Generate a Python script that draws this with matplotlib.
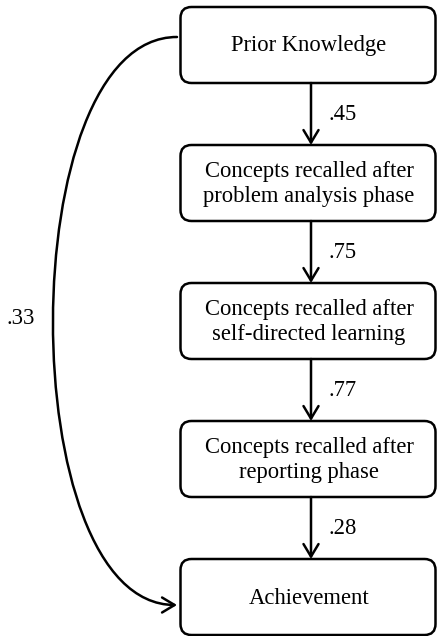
import matplotlib
matplotlib.use("Agg")
import matplotlib.pyplot as plt
from matplotlib.patches import FancyBboxPatch, FancyArrowPatch
from matplotlib.path import Path

# ---- data ----
node_labels = [
    "Prior Knowledge",
    "Concepts recalled after\nproblem analysis phase",
    "Concepts recalled after\nself-directed learning",
    "Concepts recalled after\nreporting phase",
    "Achievement",
]
path_coefs = [".45", ".75", ".77", ".28"]
direct_coef = ".33"

# ---- layout (pixels) ----
W, H = 437, 636
box_left, box_right = 180.5, 435.5
box_tops = [7, 145, 283, 421, 559]
box_h = 76
arrow_x = 311
text_x = 309
lw = 1.8
fam = ["Liberation Serif", "DejaVu Serif"]

fig = plt.figure(figsize=(W / 100, H / 100), dpi=100)
ax = fig.add_axes([0, 0, 1, 1])
ax.set_xlim(0, W)
ax.set_ylim(H, 0)
ax.axis("off")

for top, lab in zip(box_tops, node_labels):
    r = 11
    box = FancyBboxPatch((box_left + r, top + r), box_right - box_left - 2 * r, box_h - 2 * r,
                         boxstyle=f"round,pad={r}", fc="white", ec="black", lw=lw)
    ax.add_patch(box)
    ax.text(text_x, top + box_h / 2 + 1, lab, ha="center", va="center",
            fontsize=16.3, family=fam, linespacing=1.3)

for i, c in enumerate(path_coefs):
    y0 = box_tops[i] + box_h
    y1 = box_tops[i + 1]
    arr = FancyArrowPatch((arrow_x, y0), (arrow_x, y1), arrowstyle="->,head_length=0.45,head_width=0.27",
                          mutation_scale=20, lw=lw, color="black", shrinkA=0, shrinkB=0)
    ax.add_patch(arr)
    ax.text(328, (y0 + y1) / 2, c, ha="left", va="center", fontsize=16.3, family=fam)

# curved direct path
p0 = (177, 37)
p3 = (177, 605)
verts = [p0, (12, 37), (12, 605), p3]
codes = [Path.MOVETO, Path.CURVE4, Path.CURVE4, Path.CURVE4]
curve = FancyArrowPatch(path=Path(verts, codes), arrowstyle="->,head_length=0.45,head_width=0.27",
                        mutation_scale=20, lw=lw, color="black")
ax.add_patch(curve)
ax.text(7, 318, direct_coef, ha="left", va="center", fontsize=16.3, family=fam)

fig.savefig("out.png", dpi=100)
